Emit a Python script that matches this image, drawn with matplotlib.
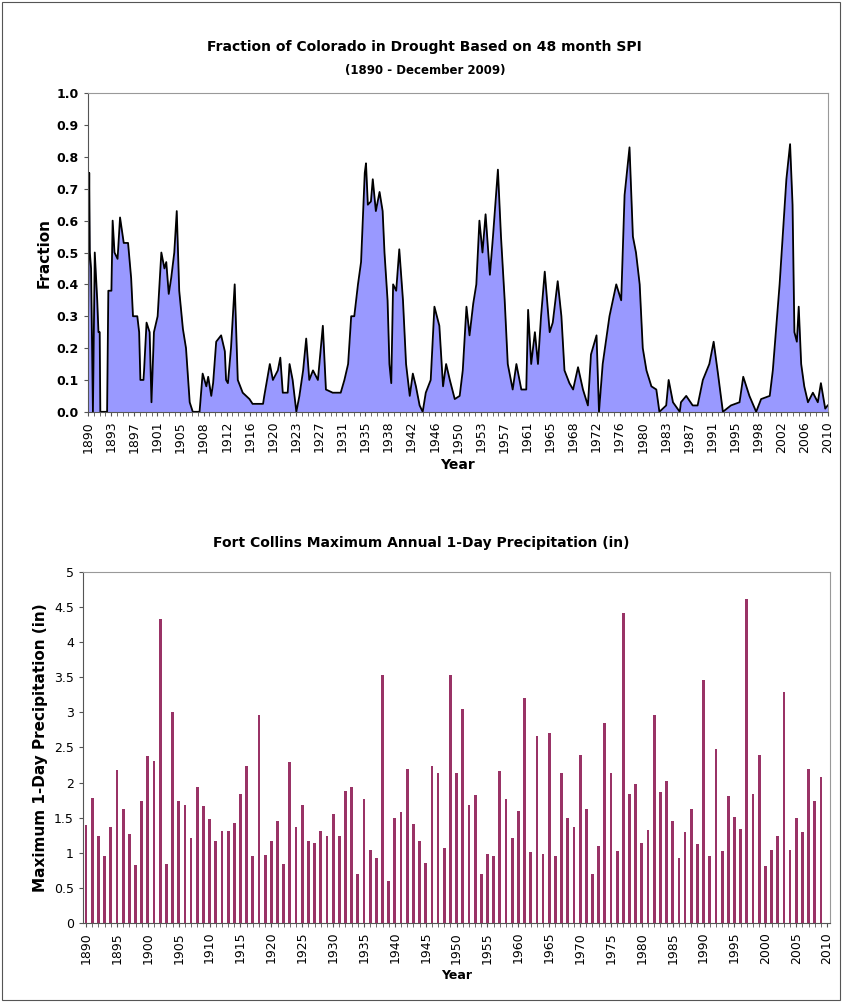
import matplotlib
matplotlib.use("Agg")
import matplotlib.pyplot as plt
import numpy as np

# Fraction of Colorado in drought (48-month SPI)
spi_year = [1890.0, 1890.2, 1890.3, 1890.5, 1890.8, 1891.1, 1891.5, 1891.7, 1891.9, 1892.0, 1892.5,
            1893.1, 1893.3, 1893.8, 1894.0, 1894.3, 1894.8, 1895.2, 1895.8, 1896.5, 1897.0, 1897.3,
            1898.0, 1898.3, 1898.5, 1899.0, 1899.1, 1899.5, 1900.0, 1900.3, 1900.7, 1901.3, 1901.9,
            1902.4, 1902.7, 1903.1, 1903.5, 1904.0, 1904.4, 1904.8, 1905.4, 1905.9, 1906.5, 1907.0,
            1908.1, 1908.6, 1909.2, 1909.5, 1910.0, 1910.3, 1910.8, 1911.6, 1912.2, 1912.4, 1912.7,
            1913.2, 1913.8, 1914.3, 1915.1, 1916.2, 1916.7, 1918.4, 1918.6, 1919.5, 1920.0, 1920.8,
            1921.2, 1921.6, 1922.4, 1922.7, 1923.2, 1923.8, 1924.3, 1924.9, 1925.4, 1925.9, 1926.5,
            1927.3, 1928.1, 1928.6, 1929.7, 1931.0, 1931.6, 1932.2, 1932.7, 1933.2, 1933.8, 1934.3,
            1934.9, 1935.1, 1935.4, 1935.9, 1936.2, 1936.7, 1937.3, 1937.8, 1938.1, 1938.6, 1938.9,
            1939.2, 1939.5, 1940.0, 1940.5, 1941.1, 1941.6, 1942.2, 1942.7, 1943.2, 1943.8, 1944.3,
            1944.8, 1945.6, 1946.2, 1947.0, 1947.6, 1948.1, 1948.7, 1949.5, 1950.3, 1950.8, 1951.4,
            1951.9, 1952.5, 1953.0, 1953.5, 1954.0, 1954.5, 1955.2, 1955.7, 1956.5, 1957.0, 1957.6,
            1958.1, 1958.9, 1959.5, 1960.3, 1961.1, 1961.4, 1961.9, 1962.5, 1963.0, 1963.5, 1964.1,
            1964.9, 1965.4, 1966.2, 1966.8, 1967.3, 1968.1, 1968.7, 1969.5, 1970.3, 1971.1, 1971.6,
            1972.5, 1972.9, 1973.5, 1974.6, 1975.7, 1976.5, 1977.05, 1977.85, 1978.4, 1978.9, 1979.5,
            1980.0, 1980.6, 1981.4, 1982.2, 1982.7, 1983.8, 1984.2, 1984.9, 1986.0, 1986.2, 1987.05,
            1988.1, 1988.9, 1989.75, 1990.8, 1991.5, 1992.2, 1993.0, 1994.3, 1995.7, 1996.3, 1997.3,
            1998.4, 1999.2, 2000.6, 2001.1, 2002.2, 2003.3, 2003.9, 2004.3, 2004.6, 2005.0, 2005.3,
            2005.7, 2006.2, 2006.8, 2007.6, 2008.4, 2008.9, 2009.6, 2010.0]
spi_frac = [0.25, 0.75, 0.50, 0.45, 0.0, 0.50, 0.35, 0.25, 0.25, 0.0, 0.0,
            0.0, 0.38, 0.38, 0.60, 0.50, 0.48, 0.61, 0.53, 0.53, 0.42, 0.30,
            0.30, 0.25, 0.10, 0.10, 0.13, 0.28, 0.25, 0.03, 0.25, 0.30, 0.50,
            0.45, 0.47, 0.37, 0.42, 0.50, 0.63, 0.38, 0.26, 0.20, 0.03, 0.0,
            0.0, 0.12, 0.08, 0.11, 0.05, 0.09, 0.22, 0.24, 0.19, 0.10, 0.09,
            0.20, 0.40, 0.10, 0.06, 0.04, 0.025, 0.025, 0.05, 0.15, 0.10, 0.13,
            0.17, 0.06, 0.06, 0.15, 0.10, 0.0, 0.05, 0.13, 0.23, 0.10, 0.13,
            0.10, 0.27, 0.07, 0.06, 0.06, 0.10, 0.15, 0.30, 0.30, 0.40, 0.47,
            0.75, 0.78, 0.65, 0.66, 0.73, 0.63, 0.69, 0.63, 0.50, 0.35, 0.15,
            0.09, 0.40, 0.38, 0.51, 0.35, 0.15, 0.05, 0.12, 0.08, 0.02, 0.0,
            0.06, 0.10, 0.33, 0.27, 0.08, 0.15, 0.10, 0.04, 0.05, 0.13, 0.33,
            0.24, 0.34, 0.40, 0.60, 0.50, 0.62, 0.43, 0.55, 0.76, 0.55, 0.35,
            0.15, 0.07, 0.15, 0.07, 0.07, 0.32, 0.15, 0.25, 0.15, 0.30, 0.44,
            0.25, 0.28, 0.41, 0.30, 0.13, 0.09, 0.07, 0.14, 0.07, 0.02, 0.18,
            0.24, 0.0, 0.15, 0.30, 0.40, 0.35, 0.68, 0.83, 0.55, 0.50, 0.40,
            0.20, 0.13, 0.08, 0.07, 0.0, 0.02, 0.10, 0.03, 0.0, 0.03, 0.05,
            0.02, 0.02, 0.10, 0.15, 0.22, 0.12, 0.0, 0.02, 0.03, 0.11, 0.05,
            0.0, 0.04, 0.05, 0.13, 0.40, 0.73, 0.84, 0.65, 0.25, 0.22, 0.33,
            0.15, 0.08, 0.03, 0.06, 0.03, 0.09, 0.01, 0.02]
top_tick_labels = ["1890", "1893", "1897", "1901", "1905", "1908", "1912", "1916", "1920",
                   "1923", "1927", "1931", "1935", "1938", "1942", "1946", "1950", "1953",
                   "1957", "1961", "1965", "1968", "1972", "1976", "1980", "1983", "1987",
                   "1991", "1995", "1998", "2002", "2006", "2010"]

# Fort Collins maximum annual 1-day precipitation (in), 1890-2009
precip_years = list(range(1890, 2010))
precip_in = [1.39, 1.78, 1.24, 0.95, 1.37, 2.18, 1.62, 1.27, 0.83, 1.74,
             2.38, 2.31, 4.33, 0.84, 3.01, 1.74, 1.68, 1.21, 1.93, 1.67,
             1.48, 1.16, 1.31, 1.31, 1.43, 1.83, 2.23, 0.95, 2.97, 0.97,
             1.16, 1.45, 0.84, 2.29, 1.37, 1.68, 1.17, 1.14, 1.31, 1.24,
             1.55, 1.24, 1.88, 1.93, 0.69, 1.76, 1.04, 0.92, 3.54, 0.59,
             1.50, 1.58, 2.19, 1.41, 1.17, 0.86, 2.23, 2.14, 1.07, 3.54,
             2.13, 3.05, 1.68, 1.82, 0.69, 0.98, 0.95, 2.17, 1.76, 1.21,
             1.60, 3.21, 1.01, 2.67, 0.98, 2.70, 0.95, 2.13, 1.50, 1.36,
             2.39, 1.62, 0.69, 1.10, 2.85, 2.14, 1.02, 4.42, 1.84, 1.98,
             1.14, 1.32, 2.97, 1.86, 2.02, 1.45, 0.92, 1.29, 1.62, 1.12,
             3.46, 0.95, 2.48, 1.03, 1.81, 1.51, 1.34, 4.62, 1.83, 2.39,
             0.81, 1.04, 1.24, 3.29, 1.04, 1.50, 1.29, 2.19, 1.74, 2.08]

fig = plt.figure(figsize=(8.42, 10.02), dpi=100)
fig.patches.append(plt.Rectangle((0.002, 0.002), 0.996, 0.996, transform=fig.transFigure,
                                 fill=False, edgecolor="#555555", linewidth=0.8))

# top panel
ax = fig.add_axes([0.1045, 0.589, 0.8785, 0.318])
ax.fill_between(spi_year, spi_frac, 0, color="#9999FF", step=None, linewidth=0)
ax.plot(spi_year, spi_frac, color="black", linewidth=1.3)
ax.set_xlim(1890, 2010)
ax.set_ylim(0, 1.0)
ax.set_yticks(np.arange(0, 1.01, 0.1))
ax.set_yticklabels([f"{v:.1f}" for v in np.arange(0, 1.01, 0.1)], fontsize=9, fontweight="bold")
ax.set_xticks(np.linspace(1890, 2010, len(top_tick_labels)))
ax.set_xticklabels(top_tick_labels, rotation=90, fontsize=9)
ax.set_xticks(np.linspace(1890, 2010, 4 * (len(top_tick_labels) - 1) + 1), minor=True)
ax.tick_params(which="both", direction="out", length=3, color="#555555")
ax.set_ylabel("Fraction", fontsize=11, fontweight="bold")
ax.set_xlabel("Year", fontsize=10, fontweight="bold")
for s in ax.spines.values():
    s.set_color("#999999")
ax.spines["left"].set_color("#555555")
ax.spines["bottom"].set_color("#555555")
fig.text(0.5045, 0.953, "Fraction of Colorado in Drought Based on 48 month SPI",
         ha="center", va="center", fontsize=10, fontweight="bold")
fig.text(0.5045, 0.930, "(1890 - December 2009)", ha="center", va="center",
         fontsize=8.5, fontweight="bold")

# bottom panel
ax = fig.add_axes([0.0986, 0.079, 0.8874, 0.350])
ax.bar(precip_years, precip_in, width=0.45, color="#993366")
ax.set_xlim(1889.5, 2010.5)
ax.set_ylim(0, 5)
yt = np.arange(0, 5.01, 0.5)
ax.set_yticks(yt)
ax.set_yticklabels([f"{v:g}" for v in yt], fontsize=9)
ax.set_xticks(range(1890, 2011, 5))
ax.set_xticklabels([str(y) for y in range(1890, 2011, 5)], rotation=90, fontsize=9)
ax.set_xticks(range(1890, 2011), minor=True)
ax.tick_params(which="both", direction="out", length=3, color="#555555")
ax.set_ylabel("Maximum 1-Day Precipitation (in)", fontsize=11, fontweight="bold")
ax.set_xlabel("Year", fontsize=9, fontweight="bold")
for s in ax.spines.values():
    s.set_color("#999999")
ax.spines["left"].set_color("#555555")
ax.spines["bottom"].set_color("#555555")
fig.text(0.5, 0.458, "Fort Collins Maximum Annual 1-Day Precipitation (in)",
         ha="center", va="center", fontsize=10, fontweight="bold")

fig.savefig("out.png", dpi=100)
